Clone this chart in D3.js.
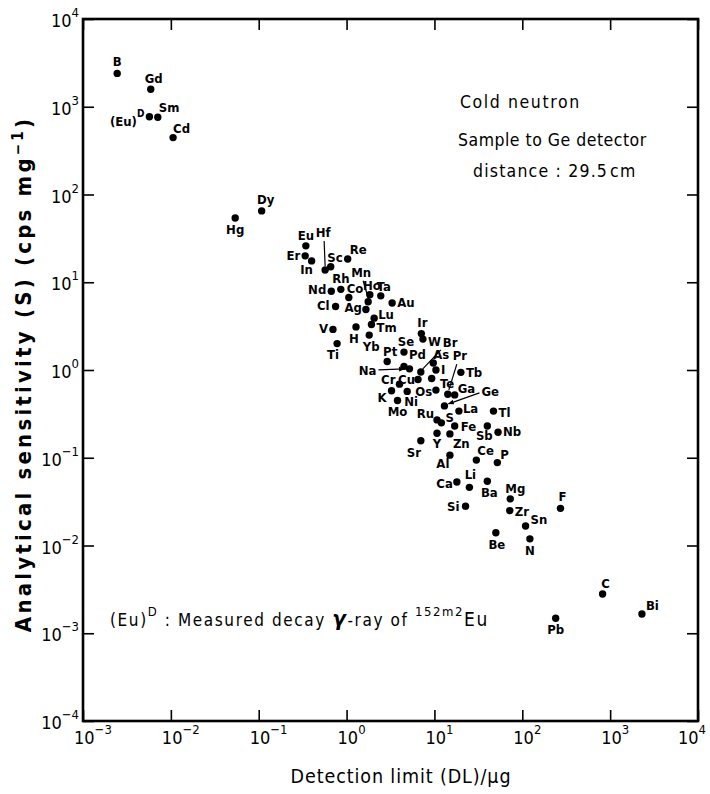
<!DOCTYPE html>
<html>
<head>
<meta charset="utf-8">
<script src="https://cdn.jsdelivr.net/npm/d3@7"></script>
<style>
  body { margin: 0; background: #fff; }
  svg text { font-family: "Liberation Sans Narrow", "DejaVu Sans Condensed", "Roboto Condensed", "Liberation Sans", sans-serif; font-stretch: condensed; fill: #000; }
</style>
</head>
<body>
<div id="chart"></div>
<script>
// 元素名称、检出限 (µg)、灵敏度 (cps/mg)
const elements = ["B","Gd","(Eu)","Sm","Cd","Hg","Dy","Eu","Er","In","Hf","Sc","Re","Nd","Rh","Co","Ho","Mn","Ag","Ta","Au","Cl","Lu","Tm","V","H","Yb","Ti",
  "Ir","W","Se","Pt","Br","Pd","Na","As","I","Cu","Tb","Pr","Ga","Os","Te","Cr","K","Ni","Mo","Ge","La","Fe","Ru","S","Sb","Tl","Nb","Y","Zn","Sr","Al","Ce","P",
  "Ca","Li","Ba","Si","Mg","Zr","Sn","Be","N","F","C","Pb","Bi"];
const detectionLimit = [0.00245,0.0059,0.0057,0.0071,0.0106,0.054,0.108,0.344,0.338,0.40,0.57,0.66,1.03,0.67,0.86,1.06,1.84,1.76,1.66,2.45,3.3,0.75,2.06,1.92,0.70,1.28,1.81,0.78,
  7.1,7.4,4.5,2.9,7.0,4.5,5.2,9.7,10.4,6.5,20,14.2,17,9.3,10.4,4.0,3.25,4.9,3.8,13,19,17,10.7,12,40,47,53,10.7,15,7.0,15,30,52,
  18,25,40,22.6,73,72,109,50,122,272,820,240,2300];
const sensitivity = [2400,1580,770,760,445,54,65,26,20,17.5,13.8,15,18.4,7.9,8.3,6.7,7.2,6.0,4.9,7.0,5.8,5.3,3.9,3.3,2.9,3.1,2.5,2.0,
  2.6,2.25,1.6,1.25,0.95,1.1,1.03,1.2,1.0,0.78,0.94,0.53,0.52,0.80,0.59,0.69,0.58,0.57,0.45,0.39,0.34,0.23,0.27,0.25,0.23,0.34,0.195,0.19,0.187,0.156,0.107,0.094,0.088,
  0.053,0.046,0.054,0.028,0.034,0.025,0.0167,0.014,0.0119,0.0265,0.0028,0.00148,0.00166];

const xExponents = [-3,-2,-1,0,1,2,3,4];
const yExponents = [-4,-3,-2,-1,0,1,2,3,4];

// 标签摆放: [dx, dy, anchor]
const place = {
  "B":[0,-7,"middle"],"Gd":[3,-6,"middle"],"(Eu)":[-5,9,"end"],"Sm":[1,-5,"start"],"Cd":[0,-5,"start"],
  "Hg":[0,16,"middle"],"Dy":[4,-7,"middle"],"Eu":[0,-6,"middle"],"Er":[-5,4,"end"],"In":[-5,13,"middle"],
  "Hf":[-2,-33,"middle"],"Sc":[12,-5,"end"],"Re":[2,-5,"start"],"Nd":[-5,3,"end"],"Rh":[0,-6,"middle"],
  "Co":[-2,-5,"start"],"Ho":[2,-5,"middle"],"Mn":[-7,-25,"middle"],"Ag":[-4,3,"end"],"Ta":[3,-5,"middle"],
  "Au":[5,4,"start"],"Cl":[-6,4,"end"],"Lu":[4,1,"start"],"Tm":[5,7,"start"],"V":[-5,4,"end"],"H":[-2,16,"middle"],
  "Yb":[2,16,"middle"],"Ti":[-4,15,"middle"],"Ir":[1,-7,"middle"],"W":[5,7,"start"],"Se":[2,-6,"middle"],
  "Pt":[3,-5,"middle"],"Br":[22,-25,"start"],"Pd":[5,-7,"start"],"Na":[-33,6,"end"],"As":[0,-4,"start"],
  "I":[5,4,"start"],"Cu":[-3,5,"end"],"Tb":[5,5,"start"],"Pr":[12,-34,"middle"],"Ga":[3,-2,"start"],
  "Os":[-8,17,"middle"],"Te":[4,-2,"start"],"Cr":[-4,0,"end"],"K":[-5,11,"end"],"Ni":[4,15,"middle"],
  "Mo":[0,16,"middle"],"Ge":[37,-10,"start"],"La":[4,2,"start"],"Fe":[6,5,"start"],"Ru":[-3,-2,"end"],
  "S":[4,-1,"start"],"Sb":[-3,14,"middle"],"Tl":[5,6,"start"],"Nb":[5,4,"start"],"Y":[0,15,"middle"],
  "Zn":[3,14,"start"],"Sr":[-7,16,"middle"],"Al":[-7,13,"middle"],"Ce":[1,-5,"start"],"P":[3,-4,"start"],
  "Ca":[-4,6,"end"],"Li":[1,-8,"middle"],"Ba":[2,16,"middle"],"Si":[-6,5,"end"],"Mg":[5,-6,"middle"],
  "Zr":[5,5,"start"],"Sn":[5,-2,"start"],"Be":[1,16,"middle"],"N":[0,16,"middle"],"F":[2,-7,"middle"],
  "C":[3,-6,"middle"],"Pb":[0,16,"middle"],"Bi":[4,-4,"start"]
};
// 引线: [x1, y1, x2, y2, arrow]
const leaders = {
  "Hf":[-1,-29,0,-4,false],"Mn":[-5,-21,0,-4,false],"Br":[20,-22,2,-3,false],
  "Na":[-31,1,-5,0,true],"Pr":[9,-30,1,-4,false],"Ge":[35,-13,4,-2,true]
};

const W = 710, H = 794;
const m = { left: 83, right: 698, top: 19, bottom: 721 };

const svg = d3.select("#chart").append("svg").attr("width", W).attr("height", H);
svg.append("defs").append("marker")
  .attr("id", "arr").attr("viewBox", "0 0 10 10").attr("refX", 9).attr("refY", 5)
  .attr("markerWidth", 5).attr("markerHeight", 5).attr("orient", "auto")
  .append("path").attr("d", "M0,1 L10,5 L0,9 Z").attr("fill", "#000");

const x = d3.scaleLog().domain([1e-3, 1e4]).range([m.left, m.right]);
const y = d3.scaleLog().domain([1e-4, 1e4]).range([m.bottom, m.top]);

const xTickVals = xExponents.map(e => Math.pow(10, e));
const yTickVals = yExponents.map(e => Math.pow(10, e));
const tick = 11;

// 四边刻度
const axes = [
  [d3.axisBottom(x).tickValues(xTickVals), `translate(0,${m.bottom})`],
  [d3.axisTop(x).tickValues(xTickVals), `translate(0,${m.top})`],
  [d3.axisLeft(y).tickValues(yTickVals), `translate(${m.left},0)`],
  [d3.axisRight(y).tickValues(yTickVals), `translate(${m.right},0)`]
];
axes.forEach(([ax, tr]) => {
  const g = svg.append("g").attr("transform", tr)
    .call(ax.tickSizeInner(-tick).tickSizeOuter(0).tickFormat(""));
  g.select(".domain").remove();
  g.selectAll(".tick line").attr("stroke", "#000").attr("stroke-width", 1.6);
});
svg.append("rect")
  .attr("x", m.left).attr("y", m.top)
  .attr("width", m.right - m.left).attr("height", m.bottom - m.top)
  .attr("fill", "none").attr("stroke", "#000").attr("stroke-width", 2.6);

// 刻度标签 10^n
const expText = d => d < 0 ? "\u2212" + (-d) : String(d);
svg.selectAll(".xl").data(xExponents).enter().append("text")
  .attr("x", d => Math.min(x(Math.pow(10, d)) - 9, W - 32))
  .attr("y", m.bottom + 23)
  .attr("text-anchor", "start").attr("font-size", 18)
  .each(function(d) {
    const t = d3.select(this);
    t.append("tspan").text("10");
    t.append("tspan").attr("dy", -10).attr("font-size", 13).text(expText(d));
  });
svg.selectAll(".yl").data(yExponents).enter().append("text")
  .attr("x", m.left - 4)
  .attr("y", d => y(Math.pow(10, d)) + 8)
  .attr("text-anchor", "end").attr("font-size", 18)
  .each(function(d) {
    const t = d3.select(this);
    t.append("tspan").text("10");
    t.append("tspan").attr("dy", -10).attr("font-size", 13).text(expText(d));
  });

// 轴标题
svg.append("text")
  .attr("x", 401).attr("y", 783)
  .attr("text-anchor", "middle").attr("font-size", 19.5).attr("letter-spacing", 0.9)
  .text("Detection limit (DL)/\u03bcg");
const yt = svg.append("text")
  .attr("transform", `translate(31,${(m.top + m.bottom) / 2 + 4}) rotate(-90)`)
  .attr("text-anchor", "middle").attr("font-size", 22).attr("letter-spacing", 3.2)
  .attr("font-weight", "bold");
yt.append("tspan").text("Analytical sensitivity (S) (cps mg");
yt.append("tspan").attr("dy", -8).attr("font-size", 15).text("\u22121");
yt.append("tspan").attr("dy", 8).text(")");

// 数据点
const pts = elements.map((e, i) => ({ name: e, dl: detectionLimit[i], s: sensitivity[i] }));

const lead = svg.append("g");
pts.filter(d => leaders[d.name]).forEach(d => {
  const [x1, y1, x2, y2, arrow] = leaders[d.name];
  const cx = x(d.dl), cy = y(d.s);
  const l = lead.append("line")
    .attr("x1", cx + x1).attr("y1", cy + y1).attr("x2", cx + x2).attr("y2", cy + y2)
    .attr("stroke", "#000").attr("stroke-width", 1.2);
  if (arrow) l.attr("marker-end", "url(#arr)");
});

svg.append("g").selectAll("circle").data(pts).enter().append("circle")
  .attr("cx", d => x(d.dl)).attr("cy", d => y(d.s)).attr("r", 3.7).attr("fill", "#000");

svg.append("g").selectAll("text").data(pts).enter().append("text")
  .attr("x", d => x(d.dl) + place[d.name][0])
  .attr("y", d => y(d.s) + place[d.name][1])
  .attr("text-anchor", d => place[d.name][2])
  .attr("font-size", 13).attr("font-weight", "bold")
  .each(function(d) {
    const t = d3.select(this);
    t.append("tspan").text(d.name);
    if (d.name === "(Eu)") t.append("tspan").attr("dy", -9).attr("font-size", 10).text("D");
  });

// 注释
const note = svg.append("g");
note.append("text").attr("x", 460).attr("y", 108).attr("font-size", 17.5).attr("letter-spacing", 1.6).text("Cold neutron");
note.append("text").attr("x", 458).attr("y", 146).attr("font-size", 17.5).attr("letter-spacing", 0.5).text("Sample to Ge detector");
const dist = note.append("text").attr("x", 473).attr("y", 177).attr("font-size", 17.5).attr("letter-spacing", 1.2);
dist.append("tspan").text("distance  :  29.5");
dist.append("tspan").attr("dx", 2).text("cm");

const eu = svg.append("text").attr("x", 110).attr("y", 626).attr("font-size", 17).attr("letter-spacing", 1.6);
eu.append("tspan").text("(Eu)");
eu.append("tspan").attr("dy", -10).attr("font-size", 13).text("D");
eu.append("tspan").attr("dy", 10).text("  :  Measured  decay  ");
eu.append("tspan").attr("font-style", "italic").attr("font-weight", "bold").attr("font-size", 22).text("\u03b3");
eu.append("tspan").text("-ray  of  ");
eu.append("tspan").attr("dy", -10).attr("font-size", 13).text("152m2");
eu.append("tspan").attr("dy", 10).attr("font-size", 19).text("Eu");
</script>
</body>
</html>
